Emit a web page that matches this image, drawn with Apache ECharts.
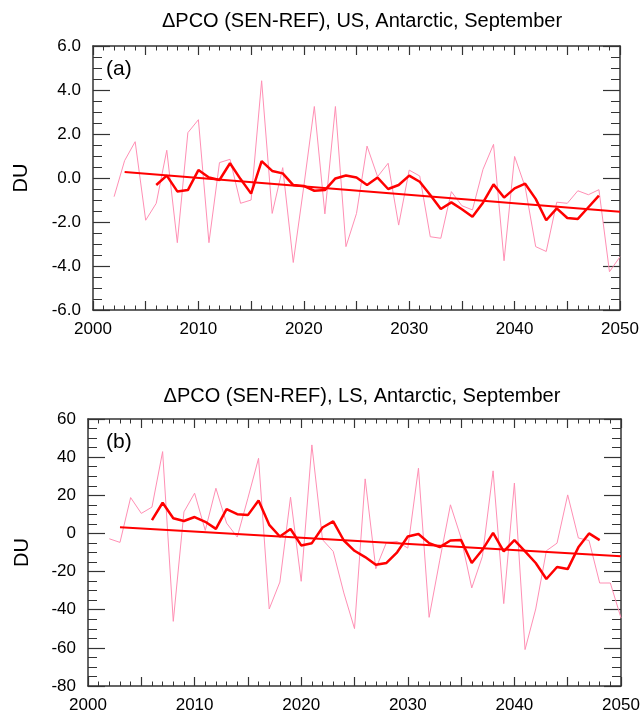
<!DOCTYPE html>
<html>
<head>
<meta charset="utf-8">
<script src="https://cdn.jsdelivr.net/npm/echarts@6/dist/echarts.min.js"></script>
<style>html,body{margin:0;padding:0;background:#fff}#c{width:643px;height:718px}</style>
</head>
<body>
<div id="c"></div>
<script>
// ---- data ----
var rawYears = [2002,2003,2004,2005,2006,2007,2008,2009,2010,2011,2012,2013,2014,2015,2016,2017,2018,2019,2020,2021,2022,2023,2024,2025,2026,2027,2028,2029,2030,2031,2032,2033,2034,2035,2036,2037,2038,2039,2040,2041,2042,2043,2044,2045,2046,2047,2048,2049,2050];
var smoothYears = [2006,2007,2008,2009,2010,2011,2012,2013,2014,2015,2016,2017,2018,2019,2020,2021,2022,2023,2024,2025,2026,2027,2028,2029,2030,2031,2032,2033,2034,2035,2036,2037,2038,2039,2040,2041,2042,2043,2044,2045,2046,2047,2048];
var trendYears = [2003, 2050];

var usRaw = [-0.85,0.79,1.65,-1.92,-1.15,1.26,-2.94,2.06,2.65,-2.94,0.70,0.85,-1.15,-1.0,4.42,-1.61,0.47,-3.84,-0.38,3.25,-1.63,3.25,-3.12,-1.61,1.45,0.06,0.67,-2.14,0.36,0.09,-2.67,-2.74,-0.62,-1.26,-1.45,0.39,1.53,-3.76,0.98,-0.4,-3.12,-3.34,-1.1,-1.15,-0.58,-0.76,-0.53,-4.26,-3.58];
var usSmooth = [-0.32,0.11,-0.61,-0.55,0.36,0.02,-0.09,0.67,-0.05,-0.71,0.77,0.32,0.21,-0.32,-0.36,-0.58,-0.55,-0.02,0.11,0.02,-0.32,0.02,-0.5,-0.32,0.11,-0.17,-0.77,-1.41,-1.11,-1.42,-1.76,-1.12,-0.29,-0.89,-0.47,-0.26,-0.95,-1.92,-1.38,-1.82,-1.86,-1.33,-0.8];
var usTrend = [0.27, -1.53];

var lsRaw = [-2.8,-4.7,18.8,10.5,13.8,42.9,-46.1,11.3,21.1,1.6,23.7,5.4,-1.9,18.5,39.4,-39.6,-25.5,19.0,-25.1,46.4,-3.3,-9.4,-31.2,-49.9,28.6,-18.5,-4.7,-4.2,-7.7,34.2,-44.0,-14.0,15.0,-2.4,-28.6,-12.0,32.8,-36.8,26.4,-60.9,-39.6,-9.1,-5.1,20.2,-2.4,-3.7,-26.0,-26.0,-44.3];
var lsSmooth = [7.0,16.1,8.0,6.5,8.6,6.1,2.4,12.7,10.1,9.6,17.3,4.5,-1.6,2.3,-6.3,-5.1,3.1,6.3,-3.7,-9.1,-12.4,-16.4,-15.5,-9.9,-1.6,-0.3,-5.1,-7.2,-3.7,-3.5,-15.5,-8.6,0.3,-9.4,-3.5,-9.4,-15.5,-23.9,-17.6,-18.7,-7.3,0,-3.5];
var lsTrend = [3.3, -12.0];

var titles = ['\u0394PCO (SEN-REF), US, Antarctic, September', '\u0394PCO (SEN-REF), LS, Antarctic, September'];
var panelTags = ['(a)', '(b)'];
var yUnit = 'DU';

// ---- helpers ----
function pairs(xs, ys){ return xs.map(function(x,i){ return [x, ys[i]]; }); }
var FONT = 'Liberation Sans, Arial, Helvetica, sans-serif';
var AX = '#333';

function xAxisDef(gi, labels){
  return {
    type:'value', gridIndex:gi, min:2000, max:2050, interval:5,
    position: labels ? 'bottom' : 'top',
    axisLine:{show:true, onZero:false, lineStyle:{color:AX, width:1.5}},
    axisTick:{show:true, inside:true, length:9, lineStyle:{color:AX, width:1.2}},
    minorTick:{show:true, splitNumber:5, length:4.5, lineStyle:{color:AX, width:1}},
    splitLine:{show:false},
    axisLabel:{show:labels, margin:11, color:'#000', fontFamily:FONT, fontSize:17,
      formatter:function(v){ return v % 10 === 0 ? String(v) : ''; }}
  };
}
function yAxisDef(gi, labels, min, max, itv, dec, nameGap){
  var o = {
    type:'value', gridIndex:gi, min:min, max:max, interval:itv,
    position: labels ? 'left' : 'right',
    axisLine:{show:true, onZero:false, lineStyle:{color:AX, width:1.5}},
    axisTick:{show:true, inside:true, length:17, lineStyle:{color:AX, width:1.2}},
    minorTick:{show:true, splitNumber:4, length:9, lineStyle:{color:AX, width:1}},
    splitLine:{show:false},
    axisLabel:{show:labels, margin:12, color:'#000', fontFamily:FONT, fontSize:17,
      formatter:function(v){ return dec ? v.toFixed(1) : String(v); }}
  };
  if (labels) {
    o.name = yUnit; o.nameLocation = 'middle'; o.nameRotate = 90; o.nameGap = nameGap;
    o.nameTextStyle = {color:'#000', fontFamily:FONT, fontSize:20};
  }
  return o;
}
function lineSeries(xi, yi, data, color, width){
  return {type:'line', xAxisIndex:xi, yAxisIndex:yi, data:data, showSymbol:false, symbol:'none',
    silent:true, animation:false, lineStyle:{color:color, width:width}, z: width > 1.5 ? 3 : 2};
}

var PINK = '#ff8fb4', RED = '#ff0000';

var option = {
  animation:false,
  backgroundColor:'#fff',
  title:[
    {text:titles[0], left:357, top:6, textAlign:'center', textStyle:{fontFamily:FONT, fontSize:20, fontWeight:'normal', color:'#000'}},
    {text:titles[1], left:357, top:381, textAlign:'center', textStyle:{fontFamily:FONT, fontSize:20, fontWeight:'normal', color:'#000'}}
  ],
  grid:[
    {left:93, right:23, top:46, height:264},
    {left:88, right:22, top:419, height:267}
  ],
  xAxis:[ xAxisDef(0,true), xAxisDef(0,false), xAxisDef(1,true), xAxisDef(1,false) ],
  yAxis:[ yAxisDef(0,true,-6,6,2,true,62), yAxisDef(0,false,-6,6,2,true,0),
          yAxisDef(1,true,-80,60,20,false,56), yAxisDef(1,false,-80,60,20,false,0) ],
  graphic:[
    {type:'text', left:106, top:59, style:{text:panelTags[0], fontFamily:FONT, fontSize:21, fill:'#000'}},
    {type:'text', left:106, top:432, style:{text:panelTags[1], fontFamily:FONT, fontSize:21, fill:'#000'}}
  ],
  series:[
    lineSeries(0,0,pairs(rawYears, usRaw), PINK, 1),
    lineSeries(0,0,pairs(smoothYears, usSmooth), RED, 2.5),
    lineSeries(0,0,pairs(trendYears, usTrend), RED, 2),
    lineSeries(2,2,pairs(rawYears, lsRaw), PINK, 1),
    lineSeries(2,2,pairs(smoothYears, lsSmooth), RED, 2.5),
    lineSeries(2,2,pairs(trendYears, lsTrend), RED, 2)
  ]
};
var chart = echarts.init(document.getElementById('c'), null, {renderer:'canvas'});
chart.setOption(option);
</script>
</body>
</html>
